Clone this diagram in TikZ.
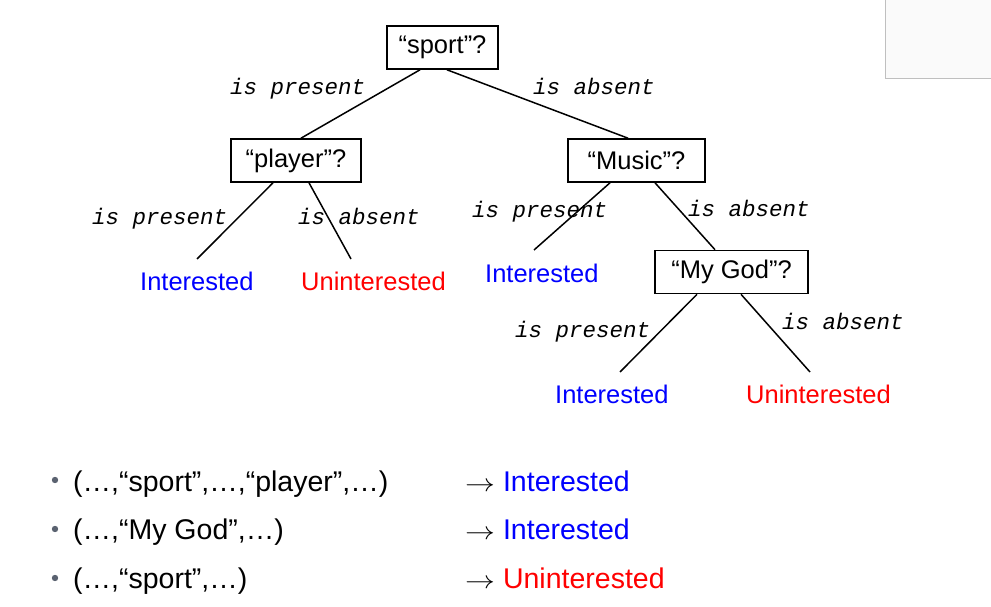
\documentclass[tikz,border=0pt]{standalone}
\usepackage{fontspec}
\setmainfont{Liberation Sans}
\setmonofont{Liberation Mono}
\usetikzlibrary{positioning,calc}
\definecolor{bleu}{RGB}{0,0,255}
\definecolor{rouge}{RGB}{255,0,0}
\definecolor{puce}{RGB}{90,98,112}

\tikzset{
  question/.style={draw, line width=1.6pt, minimum height=43pt, inner sep=0pt, font=\fontsize{25.5}{30}\selectfont},
  branche/.style={-, line width=1.5pt},
  etiquette/.style={anchor=base west, inner sep=0pt, font=\fontsize{22.5}{26}\ttfamily\itshape},
  interesse/.style={anchor=base west, inner sep=0pt, text=bleu, font=\fontsize{25.5}{30}\selectfont},
  desinteresse/.style={anchor=base west, inner sep=0pt, text=rouge, font=\fontsize{25.5}{30}\selectfont},
  ligne/.style={anchor=base west, inner sep=0pt, font=\fontsize{28.5}{34}\selectfont},
}

\begin{document}
\begin{tikzpicture}[x=1pt, y=-1pt]

\useasboundingbox (0,0) rectangle (991,607);

% cadre gris
\fill[black!2] (885,0) rectangle (991,79);
\draw[black!25, line width=1pt] (885,0) -- (885,79) -- (991,79);

% questions
\node[question, minimum width=111pt] (sport) at (442.5,47.5) {``sport''?};
\node[question, minimum width=130pt] (player) at (296,160.5) {``player''?};
\node[question, minimum width=137pt] (music) at (636.5,160.5) {``Music''?};
\node[question, minimum width=153pt] (mygod) at (731.5,272) {``My God''?};

% feuilles
\node[interesse] (int1) at (140,290) {Interested};
\node[desinteresse] (unint1) at (301,290) {Uninterested};
\node[interesse] (int2) at (485,282) {Interested};
\node[interesse] (int3) at (555,403) {Interested};
\node[desinteresse] (unint2) at (746,403) {Uninterested};

\coordinate (bout1) at (197,259);
\coordinate (bout2) at (351,259);
\coordinate (bout3) at (534,250);
\coordinate (bout4) at (620,372);
\coordinate (bout5) at (810,372);

% branches
\draw[branche] ([xshift=-22.5pt]sport.south) -- ([xshift=5pt]player.north);
\draw[branche] ([xshift=4.5pt]sport.south) -- ([xshift=-8.5pt]music.north);
\draw[branche] ([xshift=-23pt]player.south) -- (bout1);
\draw[branche] ([xshift=13pt]player.south) -- (bout2);
\draw[branche] ([xshift=-26.5pt]music.south) -- (bout3);
\draw[branche] ([xshift=18.5pt]music.south) -- ([xshift=-16.5pt]mygod.north);
\draw[branche] ([xshift=-34.5pt]mygod.south) -- (bout4);
\draw[branche] ([xshift=9.5pt]mygod.south) -- (bout5);

% etiquettes
\node[etiquette] (e1) at (230,95) {is present};
\node[etiquette] (e2) at (533,95) {is absent};
\node[etiquette] (e3) at (92,224) {is present};
\node[etiquette] (e4) at (298,224) {is absent};
\node[etiquette] (e5) at (472,217) {is present};
\node[etiquette] (e6) at (688,216) {is absent};
\node[etiquette] (e7) at (515,337) {is present};
\node[etiquette] (e8) at (782,329) {is absent};

% exemples
\fill[puce] (55,480) circle (3.2);
\fill[puce] (55,529) circle (3.2);
\fill[puce] (55,578) circle (3.2);
\node[ligne] (x1) at (73,491) {(\dots,``sport'',\dots,``player'',\dots)};
\node[ligne] (x2) at (73,539) {(\dots,``My God'',\dots)};
\node[ligne] (x3) at (73,588) {(\dots,``sport'',\dots)};
\node[ligne] (r1) at (465,491) {\scalebox{1.2}[1]{$\rightarrow$}\hspace{8pt}\textcolor{bleu}{Interested}};
\node[ligne] (r2) at (465,539) {\scalebox{1.2}[1]{$\rightarrow$}\hspace{8pt}\textcolor{bleu}{Interested}};
\node[ligne] (r3) at (465,588) {\scalebox{1.2}[1]{$\rightarrow$}\hspace{8pt}\textcolor{rouge}{Uninterested}};

\end{tikzpicture}
\end{document}
